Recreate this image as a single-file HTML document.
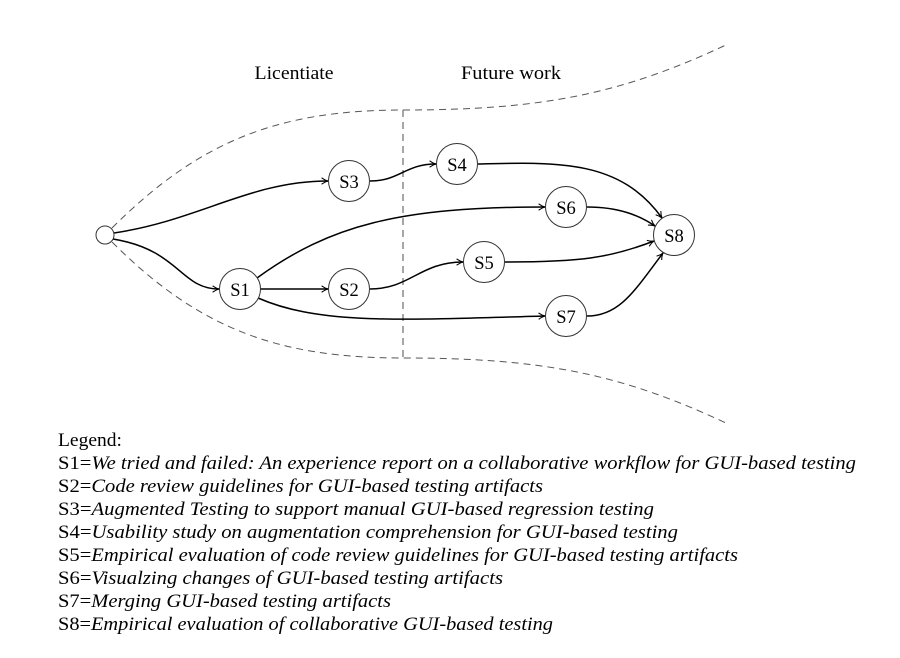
<!DOCTYPE html>
<html><head><meta charset="utf-8"><style>
html,body{margin:0;padding:0;background:#fff;}
svg{display:block;}
text{font-family:"Liberation Serif",serif;fill:#000;}
</style></head><body>
<svg width="900" height="658" viewBox="0 0 900 658" xmlns="http://www.w3.org/2000/svg">
<defs>
<marker id="a" viewBox="0 0 10 10" refX="9" refY="5" markerWidth="8" markerHeight="8" orient="auto" markerUnits="userSpaceOnUse">
<path d="M1,1 Q5,4 9,5 Q5,6 1,9" fill="none" stroke="#000" stroke-width="1.3"/>
</marker>
</defs>
<g fill="none" stroke="#555" stroke-width="1" stroke-dasharray="7,5">
<path d="M112,228 C200,140 280,110 403,110 C540,110 620,95 728,44"/>
<path d="M112,242 C200,330 280,358 403,358 C540,358 620,373 728,424"/>
</g>
<line x1="403" y1="110" x2="403" y2="358" stroke="#777" stroke-width="1.3" stroke-dasharray="7,5"/>
<text x="294" y="79" font-size="18.5" text-anchor="middle" textLength="79" lengthAdjust="spacingAndGlyphs">Licentiate</text>
<text x="511" y="79" font-size="18.5" text-anchor="middle" textLength="100" lengthAdjust="spacingAndGlyphs">Future work</text>
<g fill="none" stroke="#000" stroke-width="1.5" marker-end="url(#a)">
<path d="M114,233 C200,220 250,181 328,181"/>
<path d="M113,239 C180,250 180,289 219,289"/>
<path d="M260,289 L328,289"/>
<path d="M257,278 C330,225 400,207 545,207"/>
<path d="M258,298 C320,325 400,320 545,316"/>
<path d="M370,181 C400,181 405,164 436,164"/>
<path d="M370,289 C410,289 420,262 463,262"/>
<path d="M478,164 C560,162 620,160 662,218"/>
<path d="M587,207 C620,207 640,216 655,226"/>
<path d="M505,262 C580,262 610,258 654,241"/>
<path d="M587,316 C620,316 635,290 663,253"/>
</g>
<g fill="#fff" stroke="#333" stroke-width="1">
<circle cx="105" cy="235" r="9"/>
<circle cx="349" cy="181" r="20.5"/>
<circle cx="240" cy="289" r="20.5"/>
<circle cx="349" cy="289" r="20.5"/>
<circle cx="457" cy="164" r="20.5"/>
<circle cx="566" cy="207" r="20.5"/>
<circle cx="484" cy="262" r="20.5"/>
<circle cx="566" cy="316" r="20.5"/>
<circle cx="674" cy="235" r="20.5"/>
</g>
<g font-size="18.5" text-anchor="middle">
<text x="349" y="188">S3</text>
<text x="240" y="296">S1</text>
<text x="349" y="296">S2</text>
<text x="457" y="171">S4</text>
<text x="566" y="214">S6</text>
<text x="484" y="269">S5</text>
<text x="566" y="323">S7</text>
<text x="674" y="242">S8</text>
</g>
<g font-size="18.5" lengthAdjust="spacingAndGlyphs">
<text x="58" y="446" textLength="64" lengthAdjust="spacingAndGlyphs">Legend:</text>
<text x="58" y="469" textLength="798" lengthAdjust="spacingAndGlyphs">S1=<tspan font-style="italic">We tried and failed: An experience report on a collaborative workflow for GUI-based testing</tspan></text>
<text x="58" y="492" textLength="485" lengthAdjust="spacingAndGlyphs">S2=<tspan font-style="italic">Code review guidelines for GUI-based testing artifacts</tspan></text>
<text x="58" y="515" textLength="596" lengthAdjust="spacingAndGlyphs">S3=<tspan font-style="italic">Augmented Testing to support manual GUI-based regression testing</tspan></text>
<text x="58" y="538" textLength="620" lengthAdjust="spacingAndGlyphs">S4=<tspan font-style="italic">Usability study on augmentation comprehension for GUI-based testing</tspan></text>
<text x="58" y="561" textLength="680" lengthAdjust="spacingAndGlyphs">S5=<tspan font-style="italic">Empirical evaluation of code review guidelines for GUI-based testing artifacts</tspan></text>
<text x="58" y="584" textLength="445" lengthAdjust="spacingAndGlyphs">S6=<tspan font-style="italic">Visualzing changes of GUI-based testing artifacts</tspan></text>
<text x="58" y="607" textLength="333" lengthAdjust="spacingAndGlyphs">S7=<tspan font-style="italic">Merging GUI-based testing artifacts</tspan></text>
<text x="58" y="630" textLength="495" lengthAdjust="spacingAndGlyphs">S8=<tspan font-style="italic">Empirical evaluation of collaborative GUI-based testing</tspan></text>
</g>
</svg>
</body></html>
